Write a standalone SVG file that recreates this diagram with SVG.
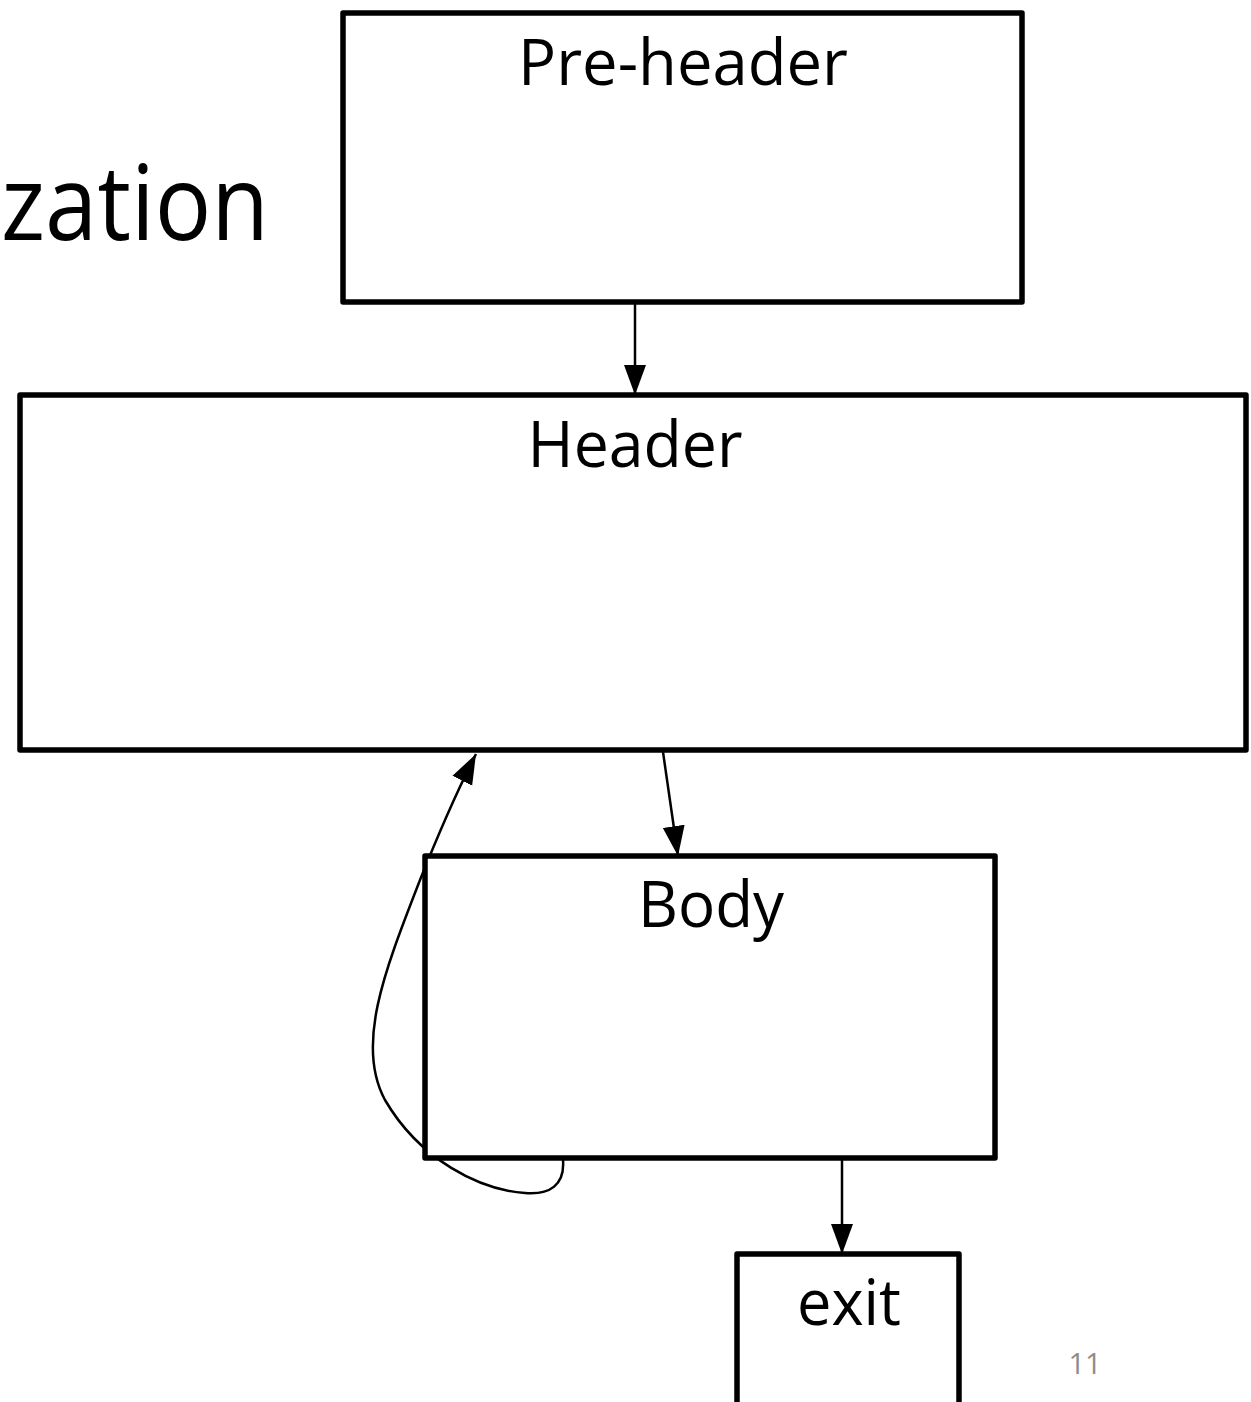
<svg xmlns="http://www.w3.org/2000/svg" width="1251" height="1402" viewBox="0 0 1251 1402">
<style>
.box{fill:#fff;stroke:#000;stroke-width:5.5;stroke-linejoin:round}
.lbl{font-family:"Open Sans","Noto Sans",sans-serif;fill:#000;text-anchor:middle}
.edge{fill:none;stroke:#000;stroke-width:2.5}
</style>
<defs>
<marker id="arr" viewBox="0 0 30 24" refX="30" refY="12" markerWidth="30" markerHeight="24" markerUnits="userSpaceOnUse" orient="auto">
<path d="M0,1 L30,12 L0,23 Z" fill="#000"/>
</marker>
</defs>
<rect width="1251" height="1402" fill="#fff"/>
<text x="1" y="240" font-family="'Open Sans','Noto Sans',sans-serif" font-size="104" textLength="268" lengthAdjust="spacingAndGlyphs">zation</text>
<g id="connectors">
<line class="edge" x1="635" y1="303" x2="635" y2="395" marker-end="url(#arr)"/>
<line class="edge" x1="663" y1="752" x2="678" y2="856" marker-end="url(#arr)"/>
<line class="edge" x1="842" y1="1160" x2="842" y2="1254" marker-end="url(#arr)"/>
<path class="edge" d="M563,1160 C565,1185 550,1195 525,1193 C480,1190 420,1160 385,1100 C355,1045 385,970 420,880 C440,830 455,795 476,754" marker-end="url(#arr)"/>
</g>
<g id="preheader">
<rect class="box" x="343" y="13" width="679" height="289"/>
<text class="lbl" x="683" y="85" font-size="64" textLength="330" lengthAdjust="spacingAndGlyphs">Pre-header</text>
</g>
<g id="header">
<rect class="box" x="20" y="395" width="1226" height="355"/>
<text class="lbl" x="635" y="467" font-size="64" textLength="215" lengthAdjust="spacingAndGlyphs">Header</text>
</g>
<g id="body">
<rect class="box" x="425" y="856" width="570" height="302"/>
<text class="lbl" x="711" y="927" font-size="64" textLength="146" lengthAdjust="spacingAndGlyphs">Body</text>
</g>
<g id="exit">
<rect class="box" x="737" y="1254" width="222" height="170"/>
<text class="lbl" x="849" y="1325" font-size="64" textLength="104" lengthAdjust="spacingAndGlyphs">exit</text>
</g>
<text x="1085" y="1374" font-family="'Open Sans','Noto Sans',sans-serif" font-size="29" fill="#8c8c8c" text-anchor="middle">11</text>
</svg>
